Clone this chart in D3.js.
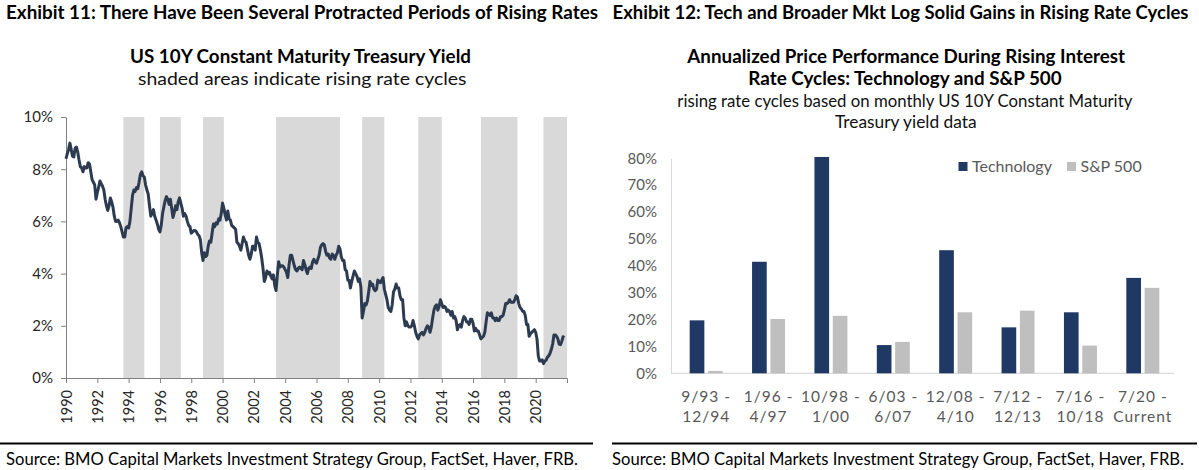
<!DOCTYPE html>
<html>
<head>
<meta charset="utf-8">
<script src="https://cdn.jsdelivr.net/npm/d3@7"></script>
<style>
  html, body { margin: 0; padding: 0; background: #fff; }
  svg { display: block; font-family: Lato, "Open Sans", sans-serif; }
</style>
</head>
<body>
<svg id="chart" width="1199" height="470"></svg>
<script>
// ---------------- DATA ----------------
// Monthly US 10Y constant maturity yield (%), starting Jan 1990
const yields = [
  8.40, 8.60, 8.75, 9.00, 8.75, 8.50, 8.47, 8.80, 8.85, 8.65, 8.35, 8.10, // 1990
  8.05, 7.90, 8.10, 8.05, 8.05, 8.25, 8.20, 7.90, 7.60, 7.50, 7.40, 6.85, // 1991
  7.10, 7.30, 7.55, 7.45, 7.35, 7.20, 6.85, 6.60, 6.42, 6.60, 6.90, 6.75, // 1992
  6.55, 6.20, 6.00, 6.00, 6.05, 5.95, 5.80, 5.60, 5.40, 5.40, 5.75, 5.80, // 1993
  5.75, 6.00, 6.50, 7.00, 7.20, 7.15, 7.30, 7.25, 7.50, 7.80, 7.90, 7.75, // 1994
  7.70, 7.40, 7.20, 7.05, 6.60, 6.20, 6.30, 6.45, 6.20, 6.05, 5.90, 5.70, // 1995
  5.60, 5.85, 6.30, 6.55, 6.80, 6.95, 6.85, 6.65, 6.85, 6.50, 6.15, 6.35, // 1996
  6.60, 6.45, 6.75, 6.90, 6.70, 6.50, 6.20, 6.30, 6.20, 6.00, 5.85, 5.80, // 1997
  5.55, 5.60, 5.65, 5.65, 5.60, 5.50, 5.45, 5.30, 4.80, 4.50, 4.80, 4.65, // 1998
  4.70, 5.05, 5.25, 5.20, 5.55, 5.90, 5.80, 5.95, 5.90, 6.10, 6.05, 6.30, // 1999
  6.70, 6.50, 6.25, 6.05, 6.40, 6.10, 6.05, 5.85, 5.80, 5.75, 5.70, 5.20, // 2000
  5.15, 5.05, 4.90, 5.15, 5.40, 5.25, 5.20, 4.95, 4.70, 4.55, 4.75, 5.05, // 2001
  5.05, 4.90, 5.40, 5.20, 5.15, 4.90, 4.60, 4.20, 3.70, 3.85, 4.10, 4.00, // 2002
  4.05, 3.90, 3.80, 3.95, 3.55, 3.35, 3.95, 4.45, 4.25, 4.30, 4.30, 4.25, // 2003
  4.15, 4.05, 3.85, 4.35, 4.70, 4.70, 4.50, 4.30, 4.15, 4.10, 4.20, 4.25, // 2004
  4.20, 4.15, 4.50, 4.35, 4.15, 4.00, 4.20, 4.25, 4.20, 4.45, 4.55, 4.45, // 2005
  4.40, 4.55, 4.70, 5.00, 5.10, 5.15, 5.10, 4.85, 4.70, 4.75, 4.60, 4.55, // 2006
  4.75, 4.70, 4.55, 4.70, 4.80, 5.05, 4.95, 4.65, 4.50, 4.50, 4.15, 4.10, // 2007
  3.75, 3.75, 3.45, 3.70, 3.90, 4.10, 4.00, 3.90, 3.70, 3.80, 3.50, 2.30, // 2008
  2.55, 2.85, 2.80, 2.95, 3.30, 3.70, 3.55, 3.60, 3.40, 3.35, 3.40, 3.75, // 2009
  3.70, 3.65, 3.75, 3.85, 3.40, 3.20, 3.00, 2.70, 2.60, 2.55, 2.80, 3.30, // 2010
  3.40, 3.60, 3.45, 3.45, 3.15, 3.00, 3.00, 2.30, 2.00, 2.15, 2.00, 1.95, // 2011
  1.95, 2.00, 2.20, 2.00, 1.75, 1.60, 1.50, 1.65, 1.70, 1.75, 1.65, 1.75, // 2012
  1.90, 2.00, 1.95, 1.75, 1.95, 2.30, 2.60, 2.75, 2.80, 2.60, 2.75, 3.00, // 2013
  2.85, 2.70, 2.75, 2.70, 2.55, 2.60, 2.55, 2.40, 2.55, 2.30, 2.35, 2.20, // 2014
  1.85, 2.00, 2.05, 1.95, 2.20, 2.35, 2.30, 2.15, 2.15, 2.05, 2.25, 2.25, // 2015
  2.10, 1.80, 1.90, 1.80, 1.80, 1.65, 1.50, 1.55, 1.60, 1.75, 2.15, 2.50, // 2016
  2.45, 2.40, 2.50, 2.30, 2.30, 2.20, 2.30, 2.20, 2.20, 2.35, 2.35, 2.40, // 2017
  2.60, 2.85, 2.85, 2.90, 3.00, 2.90, 2.90, 2.90, 3.00, 3.15, 3.10, 2.85, // 2018
  2.70, 2.65, 2.55, 2.55, 2.40, 2.05, 2.05, 1.60, 1.70, 1.75, 1.80, 1.85, // 2019
  1.75, 1.50, 0.85, 0.65, 0.65, 0.70, 0.55, 0.65, 0.68, 0.80, 0.85, 0.95, // 2020
  1.10, 1.30, 1.65, 1.65, 1.60, 1.50, 1.30, 1.28, 1.40, 1.58, 1.55        // 2021
];
const firstYear = 1990;

// Rising-rate cycles: start and end month (year, month)
const cycleStart = [[1993, 9], [1996, 1], [1998, 10], [2003, 6], [2008, 12], [2012, 7], [2016, 7], [2020, 7]];
const cycleEnd   = [[1994, 12], [1997, 4], [2000, 1], [2007, 6], [2010, 4], [2013, 12], [2018, 10], [2021, 12]];

const yearTicks = [1990, 1992, 1994, 1996, 1998, 2000, 2002, 2004, 2006, 2008, 2010, 2012, 2014, 2016, 2018, 2020];
const yieldTicks = [0, 2, 4, 6, 8, 10];

// Exhibit 12
const cycleLabels = [
  ["9/93 -", "12/94"], ["1/96 -", "4/97"], ["10/98 -", "1/00"], ["6/03 -", "6/07"],
  ["12/08 -", "4/10"], ["7/12 -", "12/13"], ["7/16 -", "10/18"], ["7/20 -", "Current"]
];
const seriesNames = ["Technology", "S&P 500"];
const techValues = [19.7, 41.5, 80.5, 10.5, 45.8, 17.1, 22.7, 35.5];
const spxValues  = [0.9, 20.2, 21.4, 11.7, 22.7, 23.3, 10.3, 31.8];
const perfTicks = [0, 10, 20, 30, 40, 50, 60, 70, 80];

// ---------------- DRAW ----------------
const svg = d3.select("#chart");
const BOLD = 700;

function fitText(g, str, x, y, len, size, weight) {
  return g.append("text")
    .attr("x", x).attr("y", y)
    .attr("font-size", size)
    .attr("font-weight", weight)
    .attr("fill", "#000")
    .attr("textLength", len)
    .attr("lengthAdjust", "spacingAndGlyphs")
    .text(str);
}

// Headers
fitText(svg, "Exhibit 11: There Have Been Several Protracted Periods of Rising Rates", 6, 19, 592, 18.5, BOLD);
fitText(svg, "Exhibit 12: Tech and Broader Mkt Log Solid Gains in Rising Rate Cycles", 612.5, 19, 576, 18.5, BOLD);

fitText(svg, "US 10Y Constant Maturity Treasury Yield", 130, 62.7, 341, 18, BOLD);
fitText(svg, "shaded areas indicate rising rate cycles", 138, 85, 328.5, 18, 400).attr("fill", "#111");

fitText(svg, "Annualized Price Performance During Rising Interest", 687.3, 63.3, 437.7, 18, BOLD);
fitText(svg, "Rate Cycles: Technology and S&P 500", 748.3, 85, 313.4, 18, BOLD);
fitText(svg, "rising rate cycles based on monthly US 10Y Constant Maturity", 677.3, 107.3, 455, 16.5, 400).attr("fill", "#111");
fitText(svg, "Treasury yield data", 835, 127.7, 141.7, 16.5, 400).attr("fill", "#111");

// Footers
svg.append("line").attr("x1", 0).attr("x2", 593).attr("y1", 443.5).attr("y2", 443.5)
  .attr("stroke", "#000").attr("stroke-width", 2);
svg.append("line").attr("x1", 612).attr("x2", 1197).attr("y1", 443.5).attr("y2", 443.5)
  .attr("stroke", "#000").attr("stroke-width", 2);
fitText(svg, "Source: BMO Capital Markets Investment Strategy Group, FactSet, Haver, FRB.", 6, 465, 572, 17, 400);
fitText(svg, "Source: BMO Capital Markets Investment Strategy Group, FactSet, Haver, FRB.", 612, 465, 572, 17, 400);

// ---------- Left chart: yield line ----------
const xL = d3.scaleLinear().domain([1990, 2022]).range([66, 567]);
const yL = d3.scaleLinear().domain([0, 10]).range([378, 117]);
const gL = svg.append("g");

const ym = ([y, m]) => y + (m - 1) / 12;
const ymEnd = ([y, m]) => y + m / 12;

gL.selectAll("rect.cycle")
  .data(cycleStart.map((s, i) => ({ s: ym(s), e: ymEnd(cycleEnd[i]) })))
  .join("rect")
  .attr("class", "cycle")
  .attr("x", d => xL(d.s))
  .attr("width", d => Math.min(xL(d.e), xL.range()[1]) - xL(d.s))
  .attr("y", yL(10))
  .attr("height", yL(0) - yL(10))
  .attr("fill", "#d9d9d9");

const yAxisL = d3.axisLeft(yL).tickValues(yieldTicks).tickFormat(d => d + "%")
  .tickSize(5).tickPadding(8).tickSizeOuter(0);
const gya = gL.append("g").attr("transform", "translate(66,0)").call(yAxisL);
gya.select(".domain").attr("stroke", "#808080");
gya.selectAll(".tick line").attr("stroke", "#808080");
gya.selectAll(".tick text").attr("font-size", 15).attr("fill", "#262626")
  .attr("font-family", "Lato, sans-serif");

const xAxisL = d3.axisBottom(xL).tickValues(yearTicks).tickFormat(d3.format("d"))
  .tickSize(5).tickSizeOuter(5);
const gxa = gL.append("g").attr("transform", "translate(0,378)").call(xAxisL);
gxa.select(".domain").attr("stroke", "#808080");
gxa.selectAll(".tick line").attr("stroke", "#808080");
gxa.selectAll(".tick text")
  .attr("font-size", 14.5).attr("fill", "#262626").attr("font-family", "Lato, sans-serif")
  .attr("text-anchor", "end")
  .attr("transform", "rotate(-90)")
  .attr("x", -12).attr("y", 0).attr("dy", "0.35em");

const line = d3.line()
  .x((d, i) => xL(firstYear + i / 12))
  .y(d => yL(d))
  .curve(d3.curveLinear);
gL.append("path")
  .datum(yields)
  .attr("d", line)
  .attr("fill", "none")
  .attr("stroke", "#2d3b50")
  .attr("stroke-width", 3)
  .attr("stroke-linejoin", "round");

// ---------- Right chart: grouped bars ----------
const xR = d3.scaleBand().domain(d3.range(cycleLabels.length)).range([675, 1174]).padding(0);
const xInner = d3.scaleBand().domain(seriesNames).range([-16.5, 16.5]).paddingInner(0.2);
const yR = d3.scaleLinear().domain([0, 80]).range([373.3, 158.3]);
const gR = svg.append("g");
const colors = { "Technology": "#1f3864", "S&P 500": "#bfbfbf" };

const yAxisR = d3.axisLeft(yR).tickValues(perfTicks).tickFormat(d => d + "%")
  .tickSize(0).tickPadding(14).tickSizeOuter(0);
const gyr = gR.append("g").attr("transform", "translate(671,0)").call(yAxisR);
gyr.select(".domain").attr("stroke", "#d9d9d9");
gyr.selectAll(".tick text").attr("font-size", 15).attr("fill", "#595959")
  .attr("font-family", "Lato, sans-serif");

gR.append("line").attr("x1", 671).attr("x2", 1174).attr("y1", yR(0)).attr("y2", yR(0))
  .attr("stroke", "#d9d9d9").attr("stroke-width", 1.2);

const barData = [];
cycleLabels.forEach((c, i) => {
  barData.push({ i, s: "Technology", v: techValues[i] });
  barData.push({ i, s: "S&P 500", v: spxValues[i] });
});
gR.selectAll("rect.bar").data(barData).join("rect")
  .attr("class", "bar")
  .attr("x", d => xR(d.i) + xR.bandwidth() / 2 + xInner(d.s))
  .attr("width", xInner.bandwidth())
  .attr("y", d => yR(d.v))
  .attr("height", d => yR(0) - yR(d.v))
  .attr("fill", d => colors[d.s]);

// category labels
const catG = gR.selectAll("g.cat").data(cycleLabels).join("g")
  .attr("class", "cat")
  .attr("transform", (d, i) => `translate(${xR(i) + xR.bandwidth() / 2},0)`);
catG.append("text").attr("y", 401.7).attr("text-anchor", "middle")
  .attr("font-size", 15.5).attr("fill", "#595959").attr("letter-spacing", 1)
  .text(d => d[0]);
catG.append("text").attr("y", 421.7).attr("text-anchor", "middle")
  .attr("font-size", 15.5).attr("fill", "#595959").attr("letter-spacing", 1)
  .text(d => d[1]);

// legend
const legX = [958.5, 1067];
const leg = gR.selectAll("g.leg").data(seriesNames).join("g")
  .attr("class", "leg")
  .attr("transform", (d, i) => `translate(${legX[i]},0)`);
leg.append("rect").attr("x", 0).attr("y", 162).attr("width", 9).attr("height", 9)
  .attr("fill", d => colors[d]);
leg.append("text").attr("x", 13.5).attr("y", 171.5)
  .attr("font-size", 16).attr("fill", "#595959")
  .text(d => d);
</script>
</body>
</html>
